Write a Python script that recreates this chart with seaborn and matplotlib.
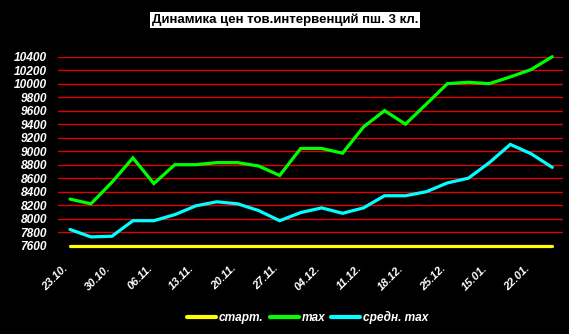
import matplotlib
matplotlib.use("Agg")
import matplotlib.pyplot as plt
import seaborn as sns
import pandas as pd
import numpy as np

# ---- data ----
tick_labels = ['23.10.', '30.10.', '06.11.', '13.11.', '20.11.', '27.11.',
               '04.12.', '11.12.', '18.12.', '25.12.', '15.01.', '22.01.']
start_vals = [7600] * 24
max_vals = [8290, 8220, 8540, 8900, 8520, 8800, 8800, 8830, 8830, 8780, 8640, 9040,
            9040, 8970, 9360, 9600, 9400, 9700, 10000, 10020, 10000, 10100, 10210, 10400]
avg_max_vals = [7840, 7730, 7740, 7970, 7970, 8060, 8190, 8250, 8220, 8120, 7970, 8090,
                8160, 8080, 8160, 8340, 8340, 8400, 8530, 8600, 8830, 9100, 8960, 8760]
series_names = ['старт.', 'max', 'средн. max']
colors = ['#FFFF00', '#00FF00', '#00FFFF']

n = len(max_vals)
idx = list(range(n))
df = pd.DataFrame({
    'x': idx * 3,
    'value': start_vals + max_vals + avg_max_vals,
    'series': [series_names[0]] * n + [series_names[1]] * n + [series_names[2]] * n,
})

sns.set_theme(style="dark")
plt.rcParams['font.family'] = ['Liberation Sans', 'DejaVu Sans']

fig = plt.figure(figsize=(5.69, 3.34), dpi=100, facecolor='black')
ax = fig.add_axes([0.102, 0.2644, 0.887, 0.566])
ax.set_facecolor('black')

sns.lineplot(data=df, x='x', y='value', hue='series', hue_order=series_names,
             palette=colors, linewidth=2.3, ax=ax, legend=True)
for line in ax.lines:
    line.set_clip_on(False)
    line.set_solid_joinstyle('miter')

ax.set_xlim(-0.57, 23.5)
ax.set_ylim(7600, 10400)
yt = list(range(7600, 10401, 200))
ax.set_yticks(yt)
ax.set_yticklabels([str(v) for v in yt], color='white', fontsize=8.6,
                   fontweight='bold', fontstyle='italic')
ax.set_xticks(idx[::2])
ax.set_xticklabels(tick_labels, color='white', fontsize=8, fontweight='bold',
                   fontstyle='italic', rotation=45, ha='right', rotation_mode='anchor')
ax.tick_params(axis='both', length=0)
ax.tick_params(axis='y', pad=8)
ax.tick_params(axis='x', pad=12.5)
for lab in ax.get_xticklabels():
    lab.set_transform(lab.get_transform() + matplotlib.transforms.ScaledTranslation(-7/100, 0, fig.dpi_scale_trans))

ax.grid(False)
for v in yt[1:]:
    ax.axhline(v, color='#E00000', linewidth=1.0, zorder=0)
for s in ax.spines.values():
    s.set_visible(False)
ax.set_xlabel('')
ax.set_ylabel('')

handles, labels = ax.get_legend_handles_labels()
ax.get_legend().remove()
leg = fig.legend(handles, labels, loc='center', bbox_to_anchor=(0.541, 0.05), ncol=3,
                 frameon=False, handlelength=2.43, handletextpad=0.25, columnspacing=0.5,
                 prop={'weight': 'bold', 'style': 'italic', 'size': 8.6})
for t in leg.get_texts():
    t.set_color('white')
for h in leg.legend_handles:
    h.set_linewidth(3)

fig.text(0.501, 0.94, 'Динамика цен тов.интервенций пш. 3 кл.', ha='center', va='center',
         color='black', fontsize=9.5, fontweight='bold',
         bbox=dict(facecolor='white', edgecolor='none', pad=1.0))

fig.savefig('out.png', dpi=100, facecolor='black')
